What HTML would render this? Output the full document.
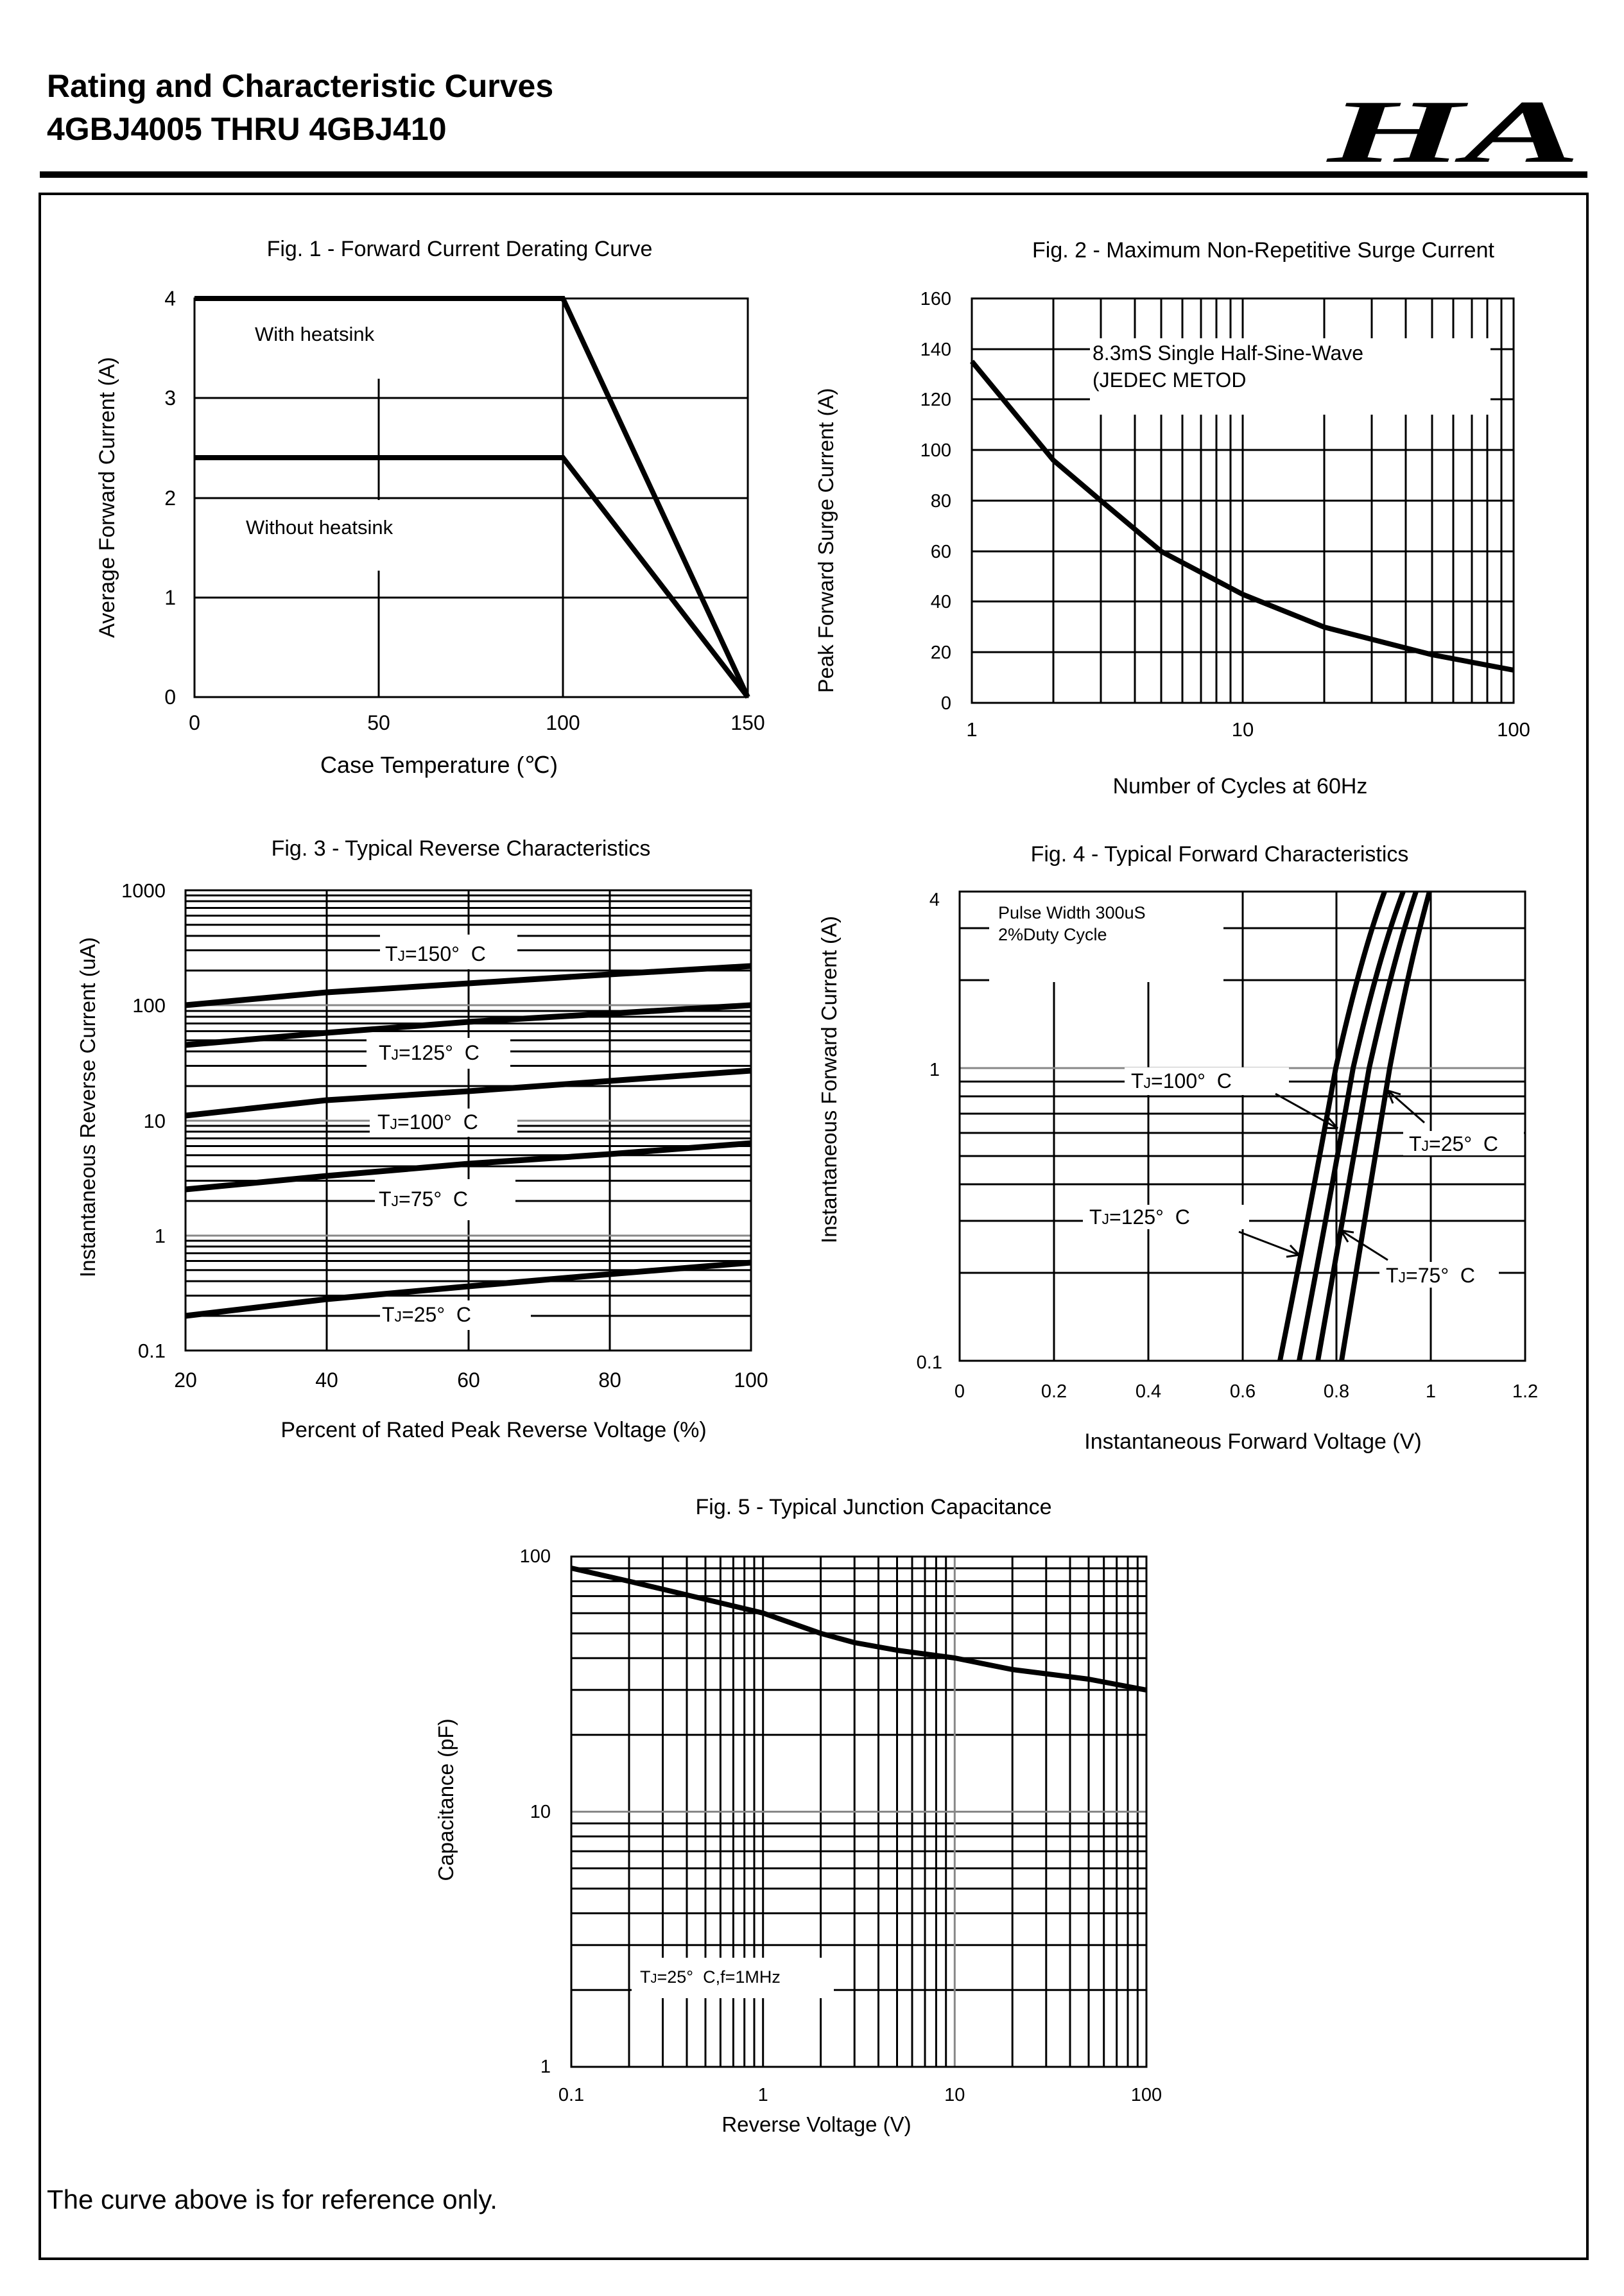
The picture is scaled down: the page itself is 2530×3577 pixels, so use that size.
<!DOCTYPE html>
<html><head><meta charset="utf-8"><style>
html,body{margin:0;padding:0;background:#fff}
svg{display:block}
text{font-family:"Liberation Sans",Arial,sans-serif;fill:#000}
</style></head><body>
<svg width="2530" height="3577" viewBox="0 0 2530 3577" xmlns="http://www.w3.org/2000/svg">
<rect width="2530" height="3577" fill="#fff"/>
<!-- header -->
<text x="73" y="151" font-size="50" font-weight="bold">Rating and Characteristic Curves</text>
<text x="73" y="218" font-size="50" font-weight="bold">4GBJ4005 THRU 4GBJ410</text>
<text transform="translate(2068,252) scale(1.95,1)" font-size="140" font-weight="bold" font-style="italic" style="font-family:'Liberation Serif',serif">HA</text>
<rect x="62" y="267" width="2411" height="10" fill="#000"/>
<rect x="62" y="302" width="2411" height="3217" fill="none" stroke="#000" stroke-width="4"/>

<!-- ===== FIG 1 ===== -->
<text x="716" y="399" font-size="34" text-anchor="middle">Fig. 1 - Forward Current Derating Curve</text>
<g stroke="#000" stroke-width="3" fill="none">
<path d="M590 465V1086M877 465V1086M303 620H1165M303 776H1165M303 931H1165"/>
</g>
<rect x="380" y="467" width="240" height="123" fill="#fff"/>
<rect x="370" y="779" width="270" height="110" fill="#fff"/>
<rect x="303" y="465" width="862" height="621" fill="none" stroke="#000" stroke-width="3"/>
<g stroke="#000" stroke-width="8" fill="none" stroke-linejoin="miter">
<path d="M303 465H877L1165 1086"/>
<path d="M303 713H877L1165 1086"/>
</g>
<text x="397" y="531" font-size="31">With heatsink</text>
<text x="383" y="832" font-size="31">Without heatsink</text>
<g font-size="32" text-anchor="end">
<text x="274" y="476">4</text><text x="274" y="631">3</text><text x="274" y="787">2</text><text x="274" y="942">1</text><text x="274" y="1097">0</text>
</g>
<g font-size="32" text-anchor="middle">
<text x="303" y="1137">0</text><text x="590" y="1137">50</text><text x="877" y="1137">100</text><text x="1165" y="1137">150</text>
</g>
<text x="684" y="1204" font-size="36" text-anchor="middle">Case Temperature (℃)</text>
<text transform="translate(178,775) rotate(-90)" font-size="34" text-anchor="middle">Average Forward Current (A)</text>

<!-- ===== FIG 2 ===== -->
<text x="1968" y="401" font-size="34" text-anchor="middle">Fig. 2 - Maximum Non-Repetitive Surge Current</text>
<g stroke="#000" stroke-width="3" fill="none">
<path d="M1641 465V1095M1715 465V1095M1768 465V1095M1809 465V1095M1842 465V1095M1871 465V1095M1895 465V1095M1917 465V1095M1936 465V1095M2063 465V1095M2137 465V1095M2190 465V1095M2231 465V1095M2264 465V1095M2293 465V1095M2317 465V1095M2339 465V1095"/>
<path d="M1514 544H2358M1514 622H2358M1514 701H2358M1514 780H2358M1514 859H2358M1514 937H2358M1514 1016H2358"/>
</g>
<rect x="1698" y="527" width="624" height="119" fill="#fff"/>
<rect x="1514" y="465" width="844" height="630" fill="none" stroke="#000" stroke-width="3"/>
<path d="M1514 563L1641 717L1715 780L1809 859L1936 926L2063 977L2231 1020L2358 1044" stroke="#000" stroke-width="8" fill="none" stroke-linejoin="round"/>
<text x="1702" y="561" font-size="32">8.3mS Single Half-Sine-Wave</text>
<text x="1702" y="603" font-size="32">(JEDEC METOD</text>
<g font-size="29" text-anchor="end">
<text x="1482" y="475">160</text><text x="1482" y="554">140</text><text x="1482" y="632">120</text><text x="1482" y="711">100</text><text x="1482" y="790">80</text><text x="1482" y="869">60</text><text x="1482" y="947">40</text><text x="1482" y="1026">20</text><text x="1482" y="1105">0</text>
</g>
<g font-size="31" text-anchor="middle">
<text x="1514" y="1147">1</text><text x="1936" y="1147">10</text><text x="2358" y="1147">100</text>
</g>
<text x="1932" y="1236" font-size="34" text-anchor="middle">Number of Cycles at 60Hz</text>
<text transform="translate(1298,842) rotate(-90)" font-size="33" text-anchor="middle">Peak Forward Surge Current (A)</text>

<!-- ===== FIG 3 ===== -->
<text x="718" y="1333" font-size="34" text-anchor="middle">Fig. 3 - Typical Reverse Characteristics</text>
<g stroke="#000" stroke-width="3" fill="none">
<path d="M509 1387V2104M730 1387V2104M950 1387V2104"/>
<path d="M289 2050H1170M289 2018.5H1170M289 1996H1170M289 1978.7H1170M289 1964.5H1170M289 1952.5H1170M289 1942H1170M289 1933H1170
M289 1871H1170M289 1839.5H1170M289 1817H1170M289 1799.7H1170M289 1785.5H1170M289 1773.5H1170M289 1763H1170M289 1754H1170
M289 1692H1170M289 1660.5H1170M289 1638H1170M289 1620.7H1170M289 1606.5H1170M289 1594.5H1170M289 1584H1170M289 1575H1170
M289 1512H1170M289 1480.5H1170M289 1458H1170M289 1440.7H1170M289 1426.5H1170M289 1414.5H1170M289 1404H1170M289 1395H1170"/>
</g>
<path d="M289 1925H1170M289 1746H1170M289 1566H1170" stroke="#888" stroke-width="3"/>
<g fill="#fff">
<rect x="592" y="1456" width="214" height="54"/>
<rect x="571" y="1617" width="224" height="48"/>
<rect x="576" y="1727" width="230" height="44"/>
<rect x="584" y="1837" width="219" height="64"/>
<rect x="592" y="2026" width="235" height="46"/>
</g>
<rect x="289" y="1387" width="881" height="717" fill="none" stroke="#000" stroke-width="3"/>
<g stroke="#000" stroke-width="9" fill="none" stroke-linejoin="round">
<path d="M289 1566L509 1546L730 1532L950 1518L1170 1505"/>
<path d="M289 1628L509 1609L730 1592L950 1579L1170 1566"/>
<path d="M289 1738L509 1714L730 1700L950 1684L1170 1668"/>
<path d="M289 1853L509 1832L730 1813L950 1798L1170 1781"/>
<path d="M289 2050L509 2024L730 2004L950 1985L1170 1967"/>
</g>
<g font-size="32">
<text x="600" y="1497">T<tspan font-size="23">J</tspan>=150°&#160; C</text>
<text x="590" y="1651">T<tspan font-size="23">J</tspan>=125°&#160; C</text>
<text x="588" y="1759">T<tspan font-size="23">J</tspan>=100°&#160; C</text>
<text x="590" y="1879">T<tspan font-size="23">J</tspan>=75°&#160; C</text>
<text x="595" y="2059">T<tspan font-size="23">J</tspan>=25°&#160; C</text>
</g>
<g font-size="31" text-anchor="end">
<text x="258" y="1398">1000</text><text x="258" y="1577">100</text><text x="258" y="1757">10</text><text x="258" y="1936">1</text><text x="258" y="2115">0.1</text>
</g>
<g font-size="32" text-anchor="middle">
<text x="289" y="2161">20</text><text x="509" y="2161">40</text><text x="730" y="2161">60</text><text x="950" y="2161">80</text><text x="1170" y="2161">100</text>
</g>
<text x="769" y="2239" font-size="34" text-anchor="middle">Percent of Rated Peak Reverse Voltage (%)</text>
<text transform="translate(148,1725) rotate(-90)" font-size="33" text-anchor="middle">Instantaneous Reverse Current (uA)</text>

<!-- ===== FIG 4 ===== -->
<text x="1900" y="1342" font-size="34" text-anchor="middle">Fig. 4 - Typical Forward Characteristics</text>
<g stroke="#000" stroke-width="3" fill="none">
<path d="M1642 1389V2120M1789 1389V2120M1936 1389V2120M2082 1389V2120M2229 1389V2120"/>
<path d="M1495 1446H2376M1495 1527H2376M1495 1685H2376M1495 1708H2376M1495 1735H2376M1495 1765H2376M1495 1801H2376M1495 1845H2376M1495 1902H2376M1495 1983H2376"/>
</g>
<path d="M1495 1664H2376" stroke="#888" stroke-width="3"/>
<g fill="#fff">
<rect x="1541" y="1390" width="365" height="140"/>
<rect x="1752" y="1663" width="256" height="43"/>
<rect x="2186" y="1762" width="188" height="38"/>
<rect x="1687" y="1877" width="259" height="38"/>
<rect x="2149" y="1966" width="186" height="40"/>
</g>
<rect x="1495" y="1389" width="881" height="731" fill="none" stroke="#000" stroke-width="3"/>
<g stroke="#000" stroke-width="8" fill="none" stroke-linejoin="round">
<path d="M1994 2120Q2040 1890 2081 1664Q2120 1490 2157 1389"/>
<path d="M2024 2120Q2068 1890 2108 1664Q2148 1490 2186 1389"/>
<path d="M2053 2120Q2094 1890 2133 1664Q2172 1490 2206 1389"/>
<path d="M2090 2120Q2128 1890 2165 1664Q2196 1500 2227 1389"/>
</g>
<g stroke="#000" stroke-width="3" fill="none">
<path d="M1987 1704L2084 1758M2084 1758L2062 1757M2084 1758L2070 1742"/>
<path d="M2219 1749L2162 1699M2162 1699L2170 1719M2162 1699L2182 1705"/>
<path d="M1930 1919L2024 1955M2024 1955L2004 1958M2024 1955L2010 1940"/>
<path d="M2162 1963L2089 1917M2089 1917L2100 1935M2089 1917L2109 1920"/>
</g>
<text x="1555" y="1431" font-size="27">Pulse Width 300uS</text>
<text x="1555" y="1465" font-size="27">2%Duty Cycle</text>
<g font-size="32">
<text x="1762" y="1695">T<tspan font-size="23">J</tspan>=100°&#160; C</text>
<text x="2195" y="1793">T<tspan font-size="23">J</tspan>=25°&#160; C</text>
<text x="1697" y="1907">T<tspan font-size="23">J</tspan>=125°&#160; C</text>
<text x="2159" y="1998">T<tspan font-size="23">J</tspan>=75°&#160; C</text>
</g>
<g font-size="29" text-anchor="end">
<text x="1464" y="1411">4</text><text x="1464" y="1676">1</text><text x="1468" y="2132">0.1</text>
</g>
<g font-size="29" text-anchor="middle">
<text x="1495" y="2177">0</text><text x="1642" y="2177">0.2</text><text x="1789" y="2177">0.4</text><text x="1936" y="2177">0.6</text><text x="2082" y="2177">0.8</text><text x="2229" y="2177">1</text><text x="2376" y="2177">1.2</text>
</g>
<text x="1952" y="2257" font-size="34" text-anchor="middle">Instantaneous Forward Voltage (V)</text>
<text transform="translate(1303,1682) rotate(-90)" font-size="33" text-anchor="middle">Instantaneous Forward Current (A)</text>

<!-- ===== FIG 5 ===== -->
<text x="1361" y="2359" font-size="34" text-anchor="middle">Fig. 5 - Typical Junction Capacitance</text>
<g stroke="#000" stroke-width="3" fill="none">
<path d="M980 2425V3220M1032.5 2425V3220M1070 2425V3220M1099 2425V3220M1122.4 2425V3220M1142.4 2425V3220M1159.7 2425V3220M1175 2425V3220M1188.7 2425V3220
M1278.6 2425V3220M1331.2 2425V3220M1368.5 2425V3220M1397.5 2425V3220M1421 2425V3220M1441 2425V3220M1458.4 2425V3220M1473.7 2425V3220
M1577.2 2425V3220M1629.8 2425V3220M1667 2425V3220M1696 2425V3220M1719.7 2425V3220M1739.7 2425V3220M1757 2425V3220M1772.3 2425V3220"/>
<path d="M890 3100.3H1786M890 3030.3H1786M890 2980.7H1786M890 2942.2H1786M890 2910.7H1786M890 2884.1H1786M890 2861H1786M890 2840.7H1786
M890 2702.8H1786M890 2632.8H1786M890 2583.2H1786M890 2544.7H1786M890 2513.2H1786M890 2486.6H1786M890 2463.5H1786M890 2443.2H1786"/>
</g>
<path d="M1487.3 2425V3220M890 2822.5H1786" stroke="#888" stroke-width="3"/>
<rect x="984" y="3050" width="315" height="63" fill="#fff"/>
<rect x="890" y="2425" width="896" height="795" fill="none" stroke="#000" stroke-width="3"/>
<path d="M890 2443L980 2463.5L1099 2491.6L1188.7 2513L1278.6 2544.7L1331 2559L1397.5 2571L1487.3 2583L1577 2601L1696 2616L1786 2633" stroke="#000" stroke-width="8" fill="none" stroke-linejoin="round"/>
<text x="997" y="3089" font-size="27">T<tspan font-size="20">J</tspan>=25°&#160; C,f=1MHz</text>
<g font-size="29" text-anchor="end">
<text x="858" y="2434">100</text><text x="858" y="2832">10</text><text x="858" y="3229">1</text>
</g>
<g font-size="29" text-anchor="middle">
<text x="890" y="3273">0.1</text><text x="1188.7" y="3273">1</text><text x="1487.3" y="3273">10</text><text x="1786" y="3273">100</text>
</g>
<text x="1272" y="3321" font-size="33" text-anchor="middle">Reverse Voltage (V)</text>
<text transform="translate(706,2804) rotate(-90)" font-size="33" text-anchor="middle">Capacitance (pF)</text>

<text x="73" y="3441" font-size="42">The curve above is for reference only.</text>
</svg>
</body></html>
